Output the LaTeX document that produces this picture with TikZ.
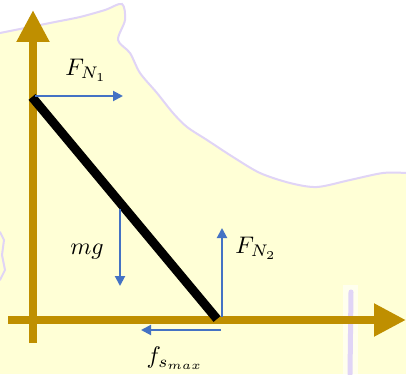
\documentclass[tikz,border=0pt]{standalone}
\usepackage{graphicx}
\usetikzlibrary{arrows.meta}
\definecolor{bgyellow}{HTML}{FFFFD6}
\definecolor{lav}{HTML}{E0D4F6}
\definecolor{axisgold}{HTML}{BF8F00}
\definecolor{forceblue}{HTML}{4472C4}
\newcommand{\lblmath}[1]{\scalebox{2.4}{$#1$}}
\tikzset{
  axisline/.style={draw=axisgold, line width=8pt, -{Triangle[length=32pt,width=31pt]}},
  force/.style={draw=forceblue, line width=2pt, -{Triangle[length=10pt,width=10pt]}},
  ladder/.style={draw=black, line width=9pt},
  lbl/.style={inner sep=0pt},
  border/.style={draw=lav, line width=2pt, line cap=round}
}
\begin{document}
\begin{tikzpicture}[x=1pt,y=-1pt]
\useasboundingbox (0,0) rectangle (406,374);
% background
\fill[bgyellow] (0,0) rectangle (406,374);
\fill[white] plot[smooth] coordinates {(0,33) (25,28) (55,22) (80,17) (105,10) (122,4) (125,20) (118,40) (130,53) (140,73) (157,93) (173,113) (187,127) (207,140) (233,157) (260,173) (290,183) (317,187) (350,180) (383,173) (406,173)} -- (406,0) -- (0,0) -- cycle;
\draw[border] plot[smooth] coordinates {(0,33) (25,28) (55,22) (80,17) (105,10) (122,4) (125,20) (118,40) (130,53) (140,73) (157,93) (173,113) (187,127) (207,140) (233,157) (260,173) (290,183) (317,187) (350,180) (383,173) (406,173)};
\draw[border] (0,232) -- (4,240) -- (2,255) -- (5,270) -- (0,280);
\fill[white, opacity=0.6] (343,285) rectangle (358,374);
\draw[lav, line width=5pt, line cap=round] (351,292) -- (350,374);
% axes
\coordinate (ybot) at (33,343);
\coordinate (ytop) at (33,10);
\coordinate (xleft) at (8,320);
\coordinate (xright) at (406,320);
\draw[axisline] (ybot) -- (ytop);
\draw[axisline] (xleft) -- (xright);
% ladder
\coordinate (top) at (32,97);
\coordinate (bot) at (217,319);
\draw[ladder] (top) -- (bot);
% forces
\coordinate (n1s) at (35,96);
\coordinate (n1e) at (123,96);
\draw[force] (n1s) -- (n1e);
\coordinate (gs) at (120,209);
\coordinate (ge) at (120,286);
\draw[force] (gs) -- (ge);
\coordinate (n2s) at (222,317);
\coordinate (n2e) at (222,228);
\draw[force] (n2s) -- (n2e);
\coordinate (fs) at (221,330);
\coordinate (fe) at (141,330);
\draw[force] (fs) -- (fe);
% labels
\node[lbl] (lN1) at (86,70) {\lblmath{F_{N_1}}};
\node[lbl] (lmg) at (87,252) {\lblmath{mg}};
\node[lbl] (lN2) at (256,248) {\lblmath{F_{N_2}}};
\node[lbl, anchor=north] (lf) at (175,347) {\lblmath{f_{s_{max}}}};
\end{tikzpicture}
\end{document}
